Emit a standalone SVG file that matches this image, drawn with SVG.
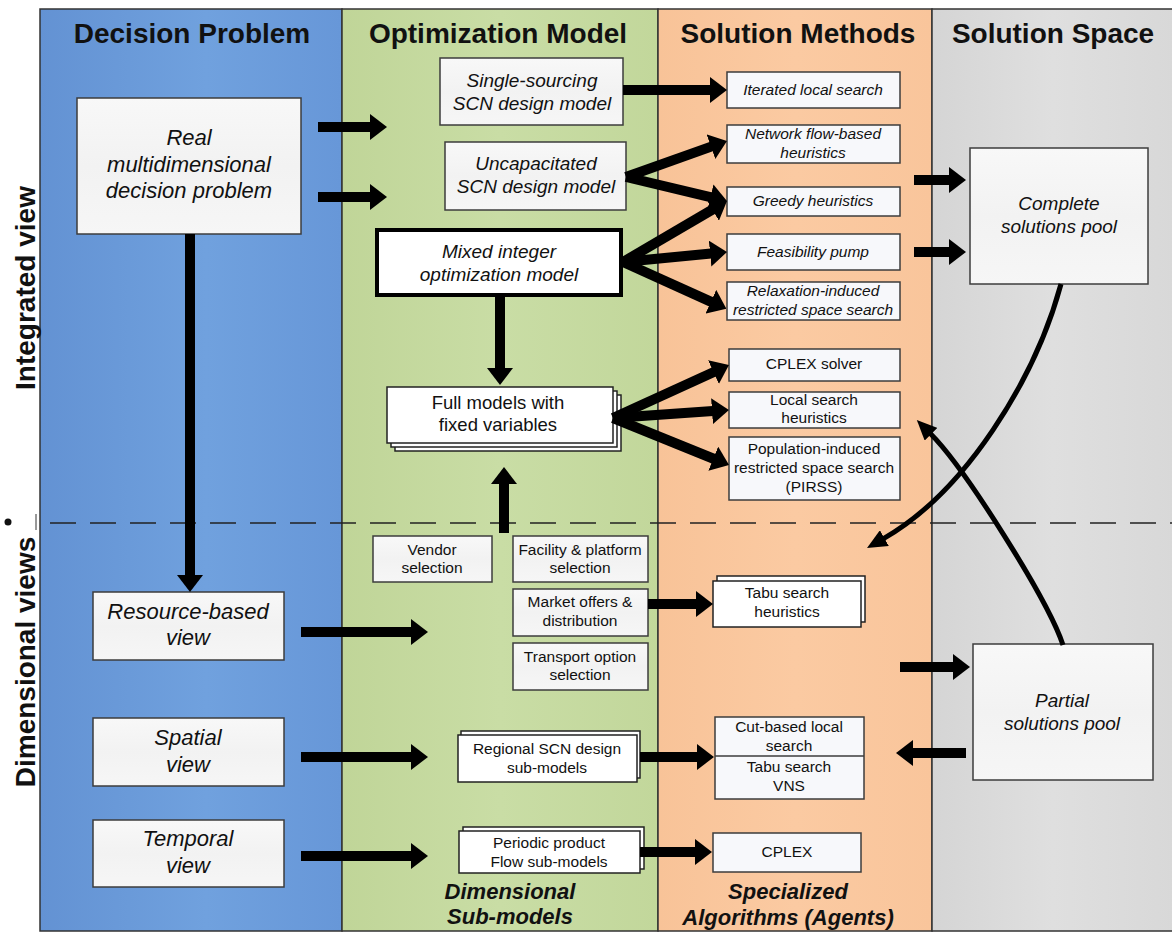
<svg xmlns="http://www.w3.org/2000/svg" width="1172" height="933" viewBox="0 0 1172 933">
<defs>
<linearGradient id="gBlue" x1="0" y1="0" x2="1" y2="0"><stop offset="0" stop-color="#6392d3"/><stop offset="0.55" stop-color="#70a1de"/><stop offset="1" stop-color="#6797d8"/></linearGradient>
<linearGradient id="gGreen" x1="0" y1="0" x2="1" y2="0"><stop offset="0" stop-color="#c0d598"/><stop offset="0.5" stop-color="#c9dda5"/><stop offset="1" stop-color="#c2d79b"/></linearGradient>
<linearGradient id="gOrange" x1="0" y1="0" x2="1" y2="0"><stop offset="0" stop-color="#f8c398"/><stop offset="0.5" stop-color="#fbcaa2"/><stop offset="1" stop-color="#f9c59b"/></linearGradient>
<linearGradient id="gGray" x1="0" y1="0" x2="1" y2="0"><stop offset="0" stop-color="#d5d5d5"/><stop offset="0.5" stop-color="#dfdfdf"/><stop offset="1" stop-color="#d8d8d8"/></linearGradient>
<linearGradient id="gBox" x1="0" y1="0" x2="0" y2="1"><stop offset="0" stop-color="#f8f8f8"/><stop offset="0.5" stop-color="#f2f2f2"/><stop offset="1" stop-color="#f6f6f6"/></linearGradient>
<marker id="ah" markerUnits="userSpaceOnUse" viewBox="0 0 17 26" markerWidth="17" markerHeight="26" refX="1" refY="13" orient="auto"><path d="M0,0 L17,13 L0,26 z" fill="#000"/></marker>
<marker id="ahs" markerUnits="userSpaceOnUse" viewBox="0 0 20 18" markerWidth="20" markerHeight="18" refX="1" refY="9" orient="auto"><path d="M0,0 L20,9 L0,18 z" fill="#000"/></marker>
<style>
text{font-family:"Liberation Sans",Arial,sans-serif;fill:#111;text-anchor:middle}
.hdr{font-size:28px;font-weight:bold}
.side{font-size:28px;font-weight:bold}
.big{font-size:22px;font-style:italic}
.mdl{font-size:19px;font-style:italic}
.it{font-size:15.5px;font-style:italic}
.n{font-size:15.5px}
.n18{font-size:18.5px}
.cap{font-size:22px;font-weight:bold;font-style:italic}
.box{fill:url(#gBox);stroke:#3c3c3c;stroke-width:1.5}
.wbox{fill:#fff;stroke:#222;stroke-width:1.5}
.sbox{fill:#f7f8fb;stroke:#3c3c3c;stroke-width:1.5}
.col{stroke:#333;stroke-width:1.5}
.arr{stroke:#000;stroke-width:10;fill:none;marker-end:url(#ah)}
.curve{stroke:#000;stroke-width:5;fill:none;marker-end:url(#ahs)}
</style>
</defs>

<g id="background">
<rect x="0" y="0" width="1172" height="933" fill="#fff"/>
<rect class="col" x="40" y="9" width="302" height="922" fill="url(#gBlue)"/>
<rect class="col" x="342" y="9" width="316" height="922" fill="url(#gGreen)"/>
<rect class="col" x="658" y="9" width="274" height="922" fill="url(#gOrange)"/>
<rect class="col" x="932" y="9" width="242" height="922" fill="url(#gGray)"/>
<line x1="50" y1="523" x2="1172" y2="523" stroke="#222" stroke-width="1.5" stroke-dasharray="26 14"/>
<circle cx="8" cy="522" r="3.5" fill="#111"/>
<line x1="36" y1="514" x2="36" y2="530" stroke="#333" stroke-width="1"/>
</g>

<g id="labels">
<text class="hdr" x="192" y="43">Decision Problem</text>
<text class="hdr" x="498" y="43">Optimization Model</text>
<text class="hdr" x="798" y="43">Solution Methods</text>
<text class="hdr" x="1053" y="43">Solution Space</text>
<text class="side" transform="translate(35,288) rotate(-90)">Integrated view</text>
<text class="side" transform="translate(35,662) rotate(-90)">Dimensional views</text>
<text class="cap" x="510" y="899">Dimensional</text>
<text class="cap" x="510" y="924">Sub-models</text>
<text class="cap" x="788" y="899">Specialized</text>
<text class="cap" x="788" y="925">Algorithms (Agents)</text>
</g>

<g id="n-real"><rect class="box" x="77" y="98" width="224" height="136"/>
<text class="big" x="189" y="145">Real</text><text class="big" x="189" y="172">multidimensional</text><text class="big" x="189" y="198">decision problem</text></g>

<g id="n-resource"><rect class="box" x="93" y="592" width="191" height="68"/>
<text class="big" x="188" y="619">Resource-based</text><text class="big" x="188" y="645">view</text></g>
<g id="n-spatial"><rect class="box" x="93" y="718" width="191" height="68"/>
<text class="big" x="188" y="745">Spatial</text><text class="big" x="188" y="772">view</text></g>
<g id="n-temporal"><rect class="box" x="93" y="820" width="191" height="67"/>
<text class="big" x="188" y="846">Temporal</text><text class="big" x="188" y="873">view</text></g>

<g id="n-single"><rect class="box" x="440" y="58" width="183" height="67"/>
<text class="mdl" x="532" y="87">Single-sourcing</text><text class="mdl" x="532" y="110">SCN design model</text></g>
<g id="n-uncap"><rect class="box" x="445" y="142" width="181" height="68"/>
<text class="mdl" x="536" y="170">Uncapacitated</text><text class="mdl" x="536" y="193">SCN design model</text></g>
<g id="n-mixed"><rect x="377" y="230" width="244" height="65" fill="#fff" stroke="#000" stroke-width="4"/>
<text class="mdl" x="499" y="258">Mixed integer</text><text class="mdl" x="499" y="281">optimization model</text></g>
<g id="n-full"><rect class="wbox" x="395" y="395" width="226" height="56"/><rect class="wbox" x="391" y="391" width="226" height="56"/><rect class="wbox" x="387" y="387" width="226" height="56"/>
<text class="n18" x="498" y="409">Full models with</text><text class="n18" x="498" y="431">fixed variables</text></g>

<g id="n-vendor"><rect class="box" x="373" y="536" width="119" height="46"/>
<text class="n" x="432" y="555">Vendor</text><text class="n" x="432" y="573">selection</text></g>
<g id="n-facility"><rect class="box" x="513" y="536" width="135" height="46"/>
<text class="n" x="580" y="555">Facility &amp; platform</text><text class="n" x="580" y="573">selection</text></g>
<g id="n-market"><rect class="box" x="513" y="589" width="135" height="47"/>
<text class="n" x="580" y="607">Market offers &amp;</text><text class="n" x="580" y="626">distribution</text></g>
<g id="n-transport"><rect class="box" x="513" y="643" width="135" height="47"/>
<text class="n" x="580" y="662">Transport option</text><text class="n" x="580" y="680">selection</text></g>

<g id="n-regional"><rect class="wbox" x="461" y="731" width="179" height="47"/><rect class="wbox" x="458" y="735" width="179" height="47"/>
<text class="n" x="547" y="754">Regional SCN design</text><text class="n" x="547" y="773">sub-models</text></g>
<g id="n-periodic"><rect class="wbox" x="463" y="827" width="181" height="42"/><rect class="wbox" x="459" y="831" width="181" height="42"/>
<text class="n" x="549" y="848">Periodic product</text><text class="n" x="549" y="867">Flow sub-models</text></g>

<g id="n-iter"><rect class="sbox" x="727" y="72" width="173" height="36"/><text class="it" x="813" y="95">Iterated local search</text></g>
<g id="n-netflow"><rect class="sbox" x="727" y="125" width="173" height="38"/><text class="it" x="813" y="139">Network flow-based</text><text class="it" x="813" y="158">heuristics</text></g>
<g id="n-greedy"><rect class="sbox" x="727" y="187" width="173" height="29"/><text class="it" x="813" y="206">Greedy heuristics</text></g>
<g id="n-feas"><rect class="sbox" x="727" y="234" width="173" height="36"/><text class="it" x="813" y="257">Feasibility pump</text></g>
<g id="n-relax"><rect class="sbox" x="727" y="282" width="173" height="38"/><text class="it" x="813" y="296">Relaxation-induced</text><text class="it" x="813" y="315">restricted space search</text></g>
<g id="n-cplexsolver"><rect class="sbox" x="729" y="349" width="171" height="32"/><text class="n" x="814" y="369">CPLEX solver</text></g>
<g id="n-localsearch"><rect class="sbox" x="729" y="392" width="171" height="36"/><text class="n" x="814" y="405">Local search</text><text class="n" x="814" y="423">heuristics</text></g>
<g id="n-pirss"><rect class="sbox" x="729" y="437" width="171" height="63"/><text class="n" x="814" y="454">Population-induced</text><text class="n" x="814" y="473">restricted space search</text><text class="n" x="814" y="492">(PIRSS)</text></g>
<g id="n-tabu"><rect class="wbox" x="717" y="576" width="148" height="46"/><rect class="wbox" x="713" y="581" width="148" height="46"/>
<text class="n" x="787" y="598">Tabu search</text><text class="n" x="787" y="617">heuristics</text></g>
<g id="n-cut"><rect class="sbox" x="715" y="717" width="149" height="82"/><line x1="715" y1="756" x2="864" y2="756" stroke="#3c3c3c" stroke-width="1.5"/>
<text class="n" x="789" y="732">Cut-based local</text><text class="n" x="789" y="751">search</text><text class="n" x="789" y="772">Tabu search</text><text class="n" x="789" y="791">VNS</text></g>
<g id="n-cplex"><rect class="sbox" x="713" y="833" width="148" height="39"/><text class="n" x="787" y="857">CPLEX</text></g>

<g id="n-complete"><rect class="box" x="970" y="148" width="178" height="136"/>
<text class="mdl" x="1059" y="210">Complete</text><text class="mdl" x="1059" y="233">solutions pool</text></g>
<g id="n-partial"><rect class="box" x="973" y="644" width="180" height="136"/>
<text class="mdl" x="1062" y="707">Partial</text><text class="mdl" x="1062" y="730">solutions pool</text></g>

<g id="connectors">
<line class="arr" x1="318" y1="127" x2="371" y2="127"/>
<line class="arr" x1="318" y1="197" x2="371" y2="197"/>
<line class="arr" x1="190" y1="234" x2="190" y2="576"/>
<line class="arr" x1="623" y1="90" x2="711" y2="90"/>
<line class="arr" x1="626" y1="177" x2="711.9" y2="146.4"/>
<line class="arr" x1="626" y1="177" x2="711.4" y2="197.3"/>
<line class="arr" x1="623" y1="262" x2="713.2" y2="209.1"/>
<line class="arr" x1="623" y1="262" x2="711.1" y2="253.5"/>
<line class="arr" x1="623" y1="262" x2="711.8" y2="302.1"/>
<line class="arr" x1="613" y1="418" x2="714.4" y2="371.7"/>
<line class="arr" x1="613" y1="418" x2="713" y2="411.1"/>
<line class="arr" x1="613" y1="418" x2="714.2" y2="459"/>
<line class="arr" x1="500" y1="297" x2="500" y2="369"/>
<line class="arr" x1="504" y1="533" x2="504" y2="483"/>
<line class="arr" x1="914" y1="180" x2="950" y2="180"/>
<line class="arr" x1="914" y1="252" x2="950" y2="252"/>
<line class="arr" x1="301" y1="632" x2="412" y2="632"/>
<line class="arr" x1="301" y1="757" x2="412" y2="757"/>
<line class="arr" x1="301" y1="856" x2="412" y2="856"/>
<line class="arr" x1="648" y1="604" x2="697" y2="604"/>
<line class="arr" x1="640" y1="757" x2="698" y2="757"/>
<line class="arr" x1="640" y1="852" x2="696" y2="852"/>
<line class="arr" x1="900" y1="667" x2="954" y2="667"/>
<line class="arr" x1="966" y1="753" x2="912" y2="753"/>
<path class="curve" d="M1061,284 C1035,380 965,492 883.5,538.6"/>
<path class="curve" d="M1063,645 C1048,600 965,468 930.3,433.5"/>
</g>
</svg>
